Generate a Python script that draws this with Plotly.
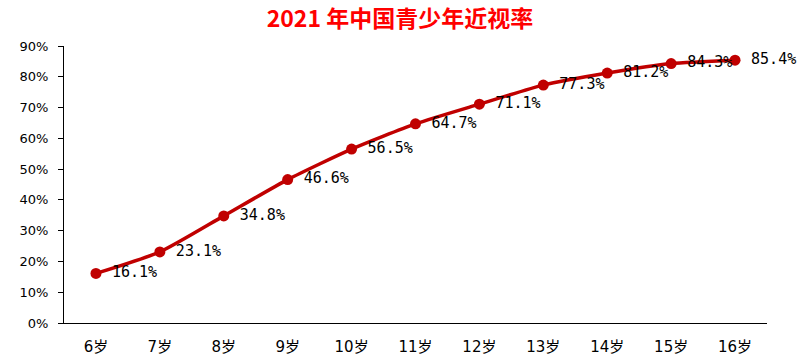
import plotly.graph_objects as go

categories = ["6岁", "7岁", "8岁", "9岁", "10岁", "11岁", "12岁", "13岁", "14岁", "15岁", "16岁"]
values = [16.1, 23.1, 34.8, 46.6, 56.5, 64.7, 71.1, 77.3, 81.2, 84.3, 85.4]
labels = [f"{v:.1f}%" for v in values]
y_ticks = [0, 10, 20, 30, 40, 50, 60, 70, 80, 90]
y_tick_text = [f"{t}%" for t in y_ticks]

RED = "#C00000"

fig = go.Figure()
fig.add_trace(go.Scatter(
    x=categories, y=values, mode="lines+markers",
    line=dict(color=RED, width=3.5, shape="spline", smoothing=0.6),
    marker=dict(color=RED, size=11),
    cliponaxis=False, hoverinfo="skip",
))
# data labels (transparent markers give the label offset)
fig.add_trace(go.Scatter(
    x=categories, y=values, mode="markers+text",
    marker=dict(color="rgba(0,0,0,0)", size=24),
    text=labels, textposition="middle right",
    textfont=dict(family="DejaVu Sans Mono, Liberation Mono, monospace", size=15, color="#000000"),
    cliponaxis=False, hoverinfo="skip",
))

fig.update_layout(
    width=800, height=358,
    margin=dict(l=64, r=33, t=46, b=35, autoexpand=False),
    paper_bgcolor="white", plot_bgcolor="white",
    showlegend=False,
    title=dict(text="<b>2021 年中国青少年近视率</b>", x=0.5, xanchor="center", y=1 - 19 / 358, yanchor="middle",
               font=dict(family="Noto Sans CJK SC, sans-serif", size=23, color="#FF0000")),
    font=dict(family="DejaVu Sans, sans-serif", size=13, color="#000000"),
)
fig.update_xaxes(
    type="category", range=[-0.5, 10.5], showline=True, linecolor="#000000", linewidth=1,
    ticks="", showgrid=False, ticklabelstandoff=10, automargin=False,
    tickfont=dict(family="DejaVu Sans, Noto Sans CJK SC, sans-serif", size=15, color="#000000"),
)
fig.update_yaxes(
    range=[0, 90], tickvals=y_ticks, ticktext=y_tick_text, showline=True,
    linecolor="#000000", linewidth=1, ticks="outside", ticklen=5, tickcolor="#000000",
    showgrid=False, zeroline=False, ticklabelstandoff=7, automargin=False,
    tickfont=dict(family="DejaVu Sans, sans-serif", size=13, color="#000000"),
)

fig.write_html("out.html", config={"displayModeBar": False},
               post_script="document.body.style.margin='0';")
